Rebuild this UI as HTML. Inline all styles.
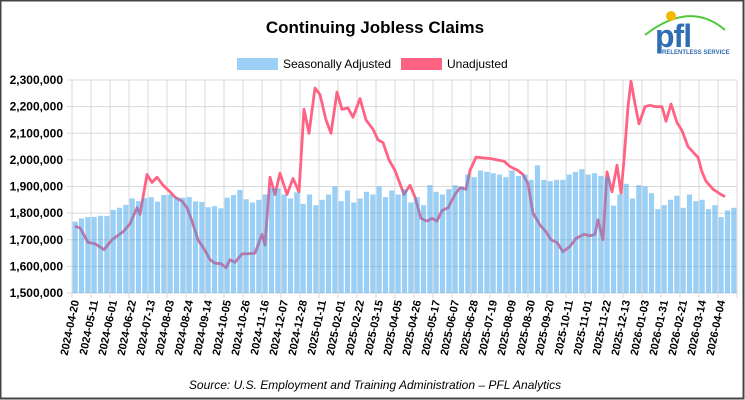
<!DOCTYPE html>
<html><head><meta charset="utf-8"><style>
body{margin:0;background:#fff;}
svg{display:block;font-family:"Liberation Sans",Arial,sans-serif;}
</style></head><body>
<svg id="c" width="745" height="400" xmlns="http://www.w3.org/2000/svg">
<rect x="0.5" y="0.5" width="743" height="398" fill="#fff" stroke="#444" stroke-width="2"/>
<text x="375" y="33" font-size="17" font-weight="bold" text-anchor="middle">Continuing Jobless Claims</text>
<rect x="237" y="58" width="41" height="12" fill="#9dcff5"/>
<text x="283" y="68" font-size="12">Seasonally Adjusted</text>
<rect x="401" y="58" width="41" height="12" fill="#ff6384"/>
<text x="447" y="68" font-size="12">Unadjusted</text>
<g id="grid"></g><g id="line"></g><g id="bars"></g><g id="xl"></g>
<text x="375" y="389" font-size="12" font-style="italic" text-anchor="middle">Source: U.S. Employment and Training Administration – PFL Analytics</text>
<path d="M645 35 Q690 0 725 30" fill="none" stroke="#4fc83a" stroke-width="2"/>
<circle cx="671" cy="16" r="5" fill="#f6b800"/>
<text x="655" y="47" font-size="32" font-weight="bold" fill="#2f6db5" letter-spacing="-1">pfl</text>
<text x="662" y="54" font-size="6" font-weight="bold" fill="#2f6db5">RELENTLESS SERVICE</text>
</svg>
<script>
const X0=72,X1=737,Y0=80,Y1=293,NS="http://www.w3.org/2000/svg";
const yv=v=>Y1-(v-1500)*(Y1-Y0)/800;
function el(t,a,p,txt){const e=document.createElementNS(NS,t);for(const k in a)e.setAttribute(k,a[k]);if(txt)e.textContent=txt;document.getElementById(p).appendChild(e);return e;}
for(let i=0;i<=8;i++){const y=Y0+i*(Y1-Y0)/8;el('line',{x1:X0-5,x2:X1,y1:y,y2:y,stroke:'#d9d9d9'},'grid');
el('text',{x:63,y:y+4,'font-size':12,'font-weight':'bold','text-anchor':'end'},'grid',(2300000-i*100000).toLocaleString('en-US'));}
const bars=[1768,1780,1785,1786,1790,1789,1812,1820,1831,1855,1845,1857,1860,1843,1868,1870,1858,1858,1860,1844,1842,1822,1826,1818,1858,1868,1887,1852,1840,1850,1870,1895,1893,1870,1855,1878,1835,1870,1830,1850,1870,1900,1845,1885,1840,1855,1880,1870,1900,1860,1885,1870,1890,1840,1860,1830,1905,1880,1870,1890,1905,1900,1945,1935,1960,1955,1950,1945,1935,1960,1940,1945,1925,1980,1925,1920,1925,1925,1945,1955,1965,1945,1950,1940,1935,1828,1870,1910,1855,1905,1900,1875,1815,1830,1850,1865,1820,1870,1845,1850,1815,1830,1785,1810,1820];
const N=bars.length,bw=(X1-X0)/N;
for(let i=0;i<=N;i+=3){const x=X0+i*bw;el('line',{x1:x,x2:x,y1:Y0,y2:Y1+5,stroke:'#d9d9d9'},'grid');}
bars.forEach((v,i)=>{const y=yv(v);el('rect',{x:X0+i*bw+0.6,y:y,width:bw-1.2,height:Y1-y,fill:'rgba(54,162,235,0.5)'},'bars');});
const L=[[75,1750],[80,1745],[88,1690],[95,1685],[104,1663],[112,1700],[123,1730],[130,1760],[137,1820],[140,1795],[147,1945],[152,1915],[157,1935],[163,1905],[170,1880],[175,1860],[182,1845],[187,1820],[192,1770],[198,1700],[205,1660],[210,1625],[215,1612],[221,1610],[226,1595],[230,1625],[235,1615],[242,1647],[250,1648],[255,1650],[262,1720],[265,1680],[270,1935],[275,1870],[280,1950],[287,1870],[293,1930],[299,1880],[304,2190],[309,2100],[315,2270],[320,2245],[326,2150],[331,2100],[337,2255],[342,2190],[348,2195],[353,2160],[360,2230],[366,2150],[373,2115],[378,2075],[383,2065],[389,2000],[395,1960],[400,1910],[404,1870],[410,1905],[415,1860],[421,1780],[427,1770],[432,1780],[437,1770],[442,1810],[448,1820],[455,1870],[460,1895],[466,1890],[470,1960],[476,2010],[490,2005],[497,2000],[504,1995],[510,1975],[518,1960],[523,1945],[528,1910],[533,1800],[540,1755],[546,1730],[551,1700],[557,1690],[563,1655],[570,1675],[576,1705],[584,1720],[590,1715],[595,1720],[598,1775],[603,1700],[607,1955],[612,1880],[617,1980],[621,1875],[624,2000],[628,2200],[631,2295],[635,2210],[639,2135],[645,2200],[650,2205],[655,2200],[662,2200],[666,2145],[671,2210],[677,2140],[682,2110],[688,2050],[694,2025],[698,2010],[702,1955],[706,1920],[713,1890],[721,1870],[725,1862]];
el('polyline',{points:L.map(p=>p[0]+','+yv(p[1]).toFixed(1)).join(' '),fill:'none',stroke:'#ff6384','stroke-width':2.8,'stroke-linejoin':'round'},'line');
const labs=['2024-04-20','2024-05-11','2024-06-01','2024-06-22','2024-07-13','2024-08-03','2024-08-24','2024-09-14','2024-10-05','2024-10-26','2024-11-16','2024-12-07','2024-12-28','2025-01-11','2025-02-01','2025-02-22','2025-03-15','2025-04-05','2025-04-26','2025-05-17','2025-06-07','2025-06-28','2025-07-19','2025-08-09','2025-08-30','2025-09-20','2025-10-11','2025-11-01','2025-11-22','2025-12-13','2026-01-03','2026-01-31','2026-02-21','2026-03-14','2026-04-04'];
labs.forEach((t,i)=>{const x=X0+(i*3+0.5)*bw+4,y=301;el('text',{x:x,y:y,'font-size':11,'font-weight':'bold','text-anchor':'end',transform:`rotate(-78 ${x} ${y})`},'xl',t);});
</script>
</body></html>
